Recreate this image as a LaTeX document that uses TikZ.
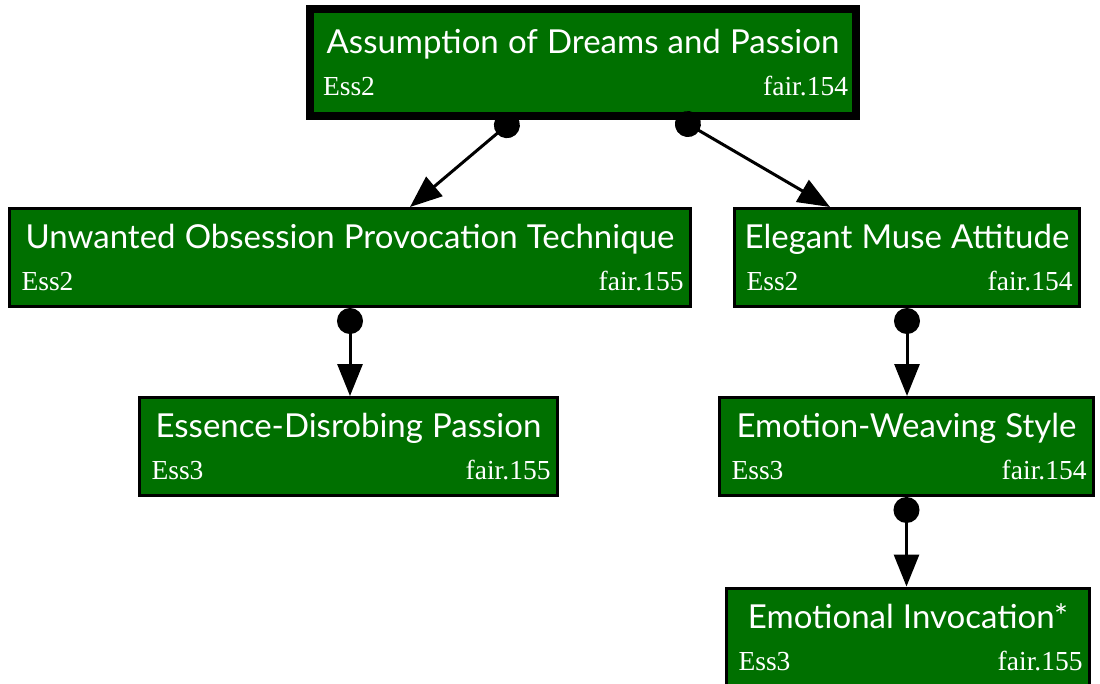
\documentclass[tikz,border=0pt]{standalone}
\usepackage{fontspec}
\usepackage{tikz}
\usetikzlibrary{arrows.meta}
\setmainfont{Liberation Serif}
\newfontfamily\headfamily{Lato}
\definecolor{EssGreen}{HTML}{007000}
\tikzset{%
  essbox/.style={draw=black,line width=3pt,fill=EssGreen,text=white,
    align=center,inner xsep=7pt,inner ysep=0pt,minimum height=98pt,
    text width=#1,font=\fontsize{27.5}{42}\selectfont},
  rootbox/.style={essbox=#1,line width=8pt,inner xsep=8pt,minimum height=107pt},
  link/.style={line width=3pt,
    {Circle[length=26pt]}-{Triangle[length=32pt,width=25pt]}}
}
\newcommand{\cardtitle}[1]{{\headfamily\fontsize{33}{42}\selectfont #1}}

\begin{document}
\begin{tikzpicture}[x=1pt,y=-1pt]
  \useasboundingbox (0,0) rectangle (1100,683);
  \node[rootbox=530pt] (dreams) at (583,62.5)
    {\cardtitle{Assumption of Dreams and Passion}\\\hspace*{5pt}Ess2\hfill fair.154};
  \node[essbox=667pt] (obsession) at (350,257.5)
    {\cardtitle{Unwanted Obsession Provocation Technique}\\\hspace*{5pt}Ess2\hfill fair.155};
  \node[essbox=331pt] (muse) at (907,257.5)
    {\cardtitle{Elegant Muse Attitude}\\\hspace*{5pt}Ess2\hfill fair.154};
  \node[essbox=404pt] (disrobing) at (348.5,446.5)
    {\cardtitle{Essence-Disrobing Passion}\\\hspace*{5pt}Ess3\hfill fair.155};
  \node[essbox=360pt] (weaving) at (906.5,446.5)
    {\cardtitle{Emotion-Weaving Style}\\\hspace*{5pt}Ess3\hfill fair.154};
  \node[essbox=349pt] (invocation) at (908,637)
    {\cardtitle{Emotional Invocation*}\\\hspace*{5pt}Ess3\hfill fair.155};
  % connectors: dot at the parent, arrowhead at the child
  \draw[link,shorten <=-5pt] ([xshift=-70pt]dreams.south) -- ([xshift=60pt]obsession.north);
  \draw[link,shorten <=-5pt] ([xshift=98pt]dreams.south) -- ([xshift=-77pt]muse.north);
  \draw[link] (obsession.south) -- (obsession.south |- disrobing.north);
  \draw[link] (muse.south) -- (muse.south |- weaving.north);
  \draw[link] (weaving.south) -- (weaving.south |- invocation.north);
\end{tikzpicture}
\end{document}
